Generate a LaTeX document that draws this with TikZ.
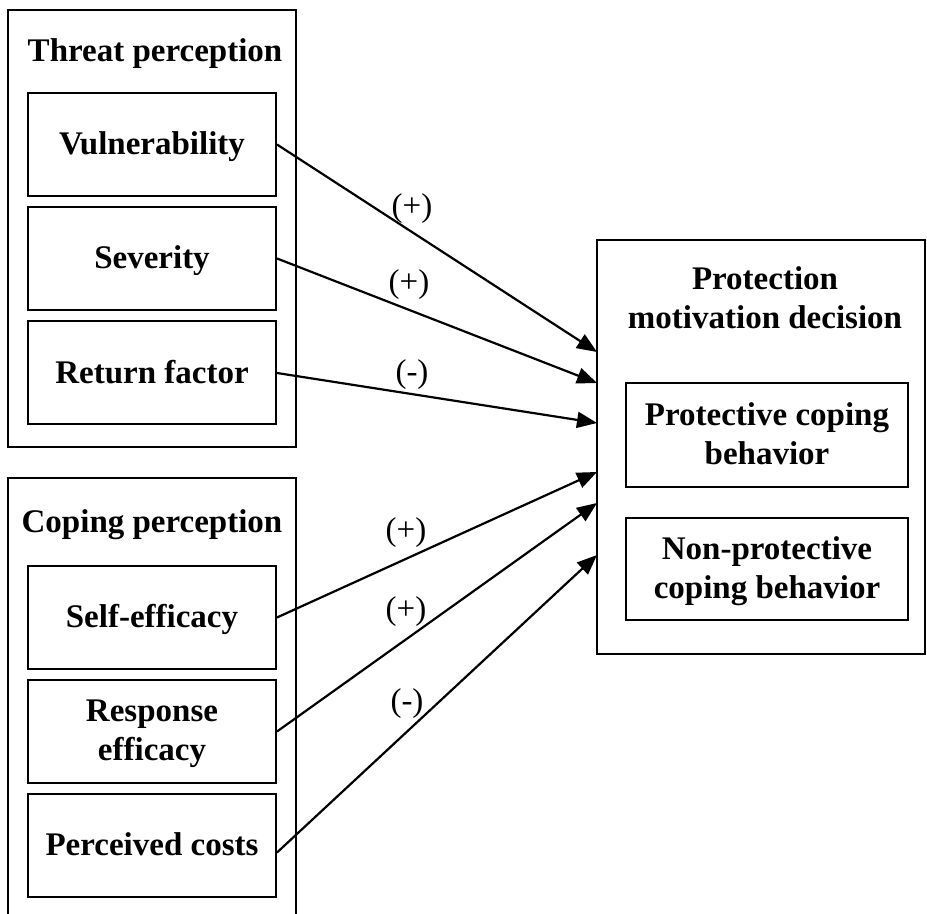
\documentclass[tikz,border=0pt]{standalone}
\usepackage{fontspec}
\setmainfont{Liberation Serif}
\usetikzlibrary{arrows.meta,positioning}

\begin{document}
\begin{tikzpicture}[x=0.5pt, y=-0.5pt,
    group/.style={rectangle, draw, line width=1pt, inner sep=0pt},
    factor/.style={rectangle, draw, line width=1pt, minimum width=124pt, minimum height=51.5pt, align=center, font=\fontsize{16.5}{19.5}\selectfont\bfseries, text depth=1.5pt},
    heading/.style={align=center, font=\fontsize{16.5}{19.5}\selectfont\bfseries},
    arrow/.style={-{Triangle[length=10pt, width=8pt]}, line width=1.1pt},
    sign/.style={font=\fontsize{16.5}{19.5}\selectfont}
]

% frame of the picture (pixel grid, y downwards)
\clip (0,0) rectangle (927,914);

% Threat perception
\node[group, minimum width=144pt, minimum height=218.5pt] (threat) at (152,228.5) {};
\node[heading] (threat_t) at (155,54) {Threat perception};
\node[factor] (vul) at (152,144.5) {Vulnerability};
\node[factor] (sev) at (152,258.5) {Severity};
\node[factor] (ret) at (152,373) {Return factor};

% Coping perception (runs past the lower edge)
\node[group, minimum width=144pt, minimum height=230pt] (coping) at (152,708) {};
\node[heading] (coping_t) at (152,525) {Coping perception};
\node[factor] (self) at (152,617.5) {Self-efficacy};
\node[factor] (resp) at (152,731.5) {Response\\efficacy};
\node[factor] (cost) at (152,845.5) {Perceived costs};

% Protection motivation decision
\node[group, minimum width=164pt, minimum height=207pt] (pmd) at (761,447) {};
\node[heading] (pmd_t) at (765,298) {Protection\\motivation decision};
\node[factor, minimum width=141pt, minimum height=52pt] (prot) at (767,435) {Protective coping\\behavior};
\node[factor, minimum width=141pt, minimum height=51pt] (nonprot) at (767,569) {Non-protective\\coping behavior};

% arrow ends on the left side of the decision box
\coordinate (in1) at (597,352);
\coordinate (in2) at (597,383);
\coordinate (in3) at (597,423);
\coordinate (in4) at (597,472);
\coordinate (in5) at (597,503);
\coordinate (in6) at (597,555);

\draw[arrow] (vul.east) -- (in1);
\draw[arrow] (sev.east) -- (in2);
\draw[arrow] (ret.east) -- (in3);
\draw[arrow] (self.east) -- (in4);
\draw[arrow] (resp.east) -- (in5);
\draw[arrow] ([yshift=-3.5pt]cost.east) -- (in6);

% signs
\node[sign] (s1) at (412,209) {(+)};
\node[sign] (s2) at (409,285) {(+)};
\node[sign] (s3) at (412,375) {(-)};
\node[sign] (s4) at (406,533) {(+)};
\node[sign] (s5) at (406,612) {(+)};
\node[sign] (s6) at (407,704) {(-)};

\end{tikzpicture}
\end{document}
